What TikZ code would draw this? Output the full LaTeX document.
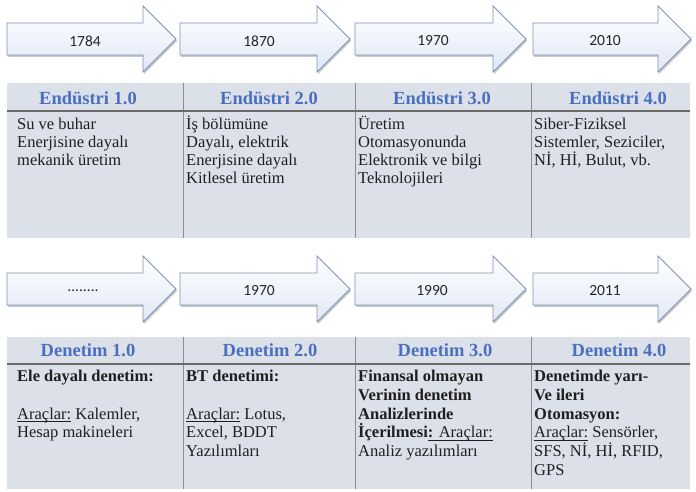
\documentclass[tikz,border=0pt]{standalone}
\usepackage{fontspec}
\setmainfont{Liberation Serif}
\newfontfamily\yearfont{Carlito}
\usetikzlibrary{shadows}

\definecolor{tablebg}{HTML}{DCE1E9}
\definecolor{headblue}{HTML}{4A6EC0}
\definecolor{arrowedge}{HTML}{7E91B2}
\definecolor{arrowtint}{HTML}{E0E8F6}
\definecolor{rulegray}{HTML}{6A6A6A}

\tikzset{
  yeararrow/.style={draw=arrowedge, line width=0.8pt, top color=white,
    bottom color=arrowtint, line join=miter,
    drop shadow={shadow xshift=1.2pt, shadow yshift=-1.8pt, opacity=0.35, fill=black!60}},
  yearlabel/.style={font=\yearfont\fontsize{15.5}{18}\selectfont, text=black!85, inner sep=0pt},
  tablebody/.style={fill=tablebg, draw=none},
  headrule/.style={draw=rulegray, line width=2pt},
  colrule/.style={draw=black!45, line width=0.7pt},
  colhead/.style={font=\bfseries\fontsize{18.5}{20}\selectfont, text=headblue, anchor=base, inner sep=0pt},
  celltext/.style={anchor=base west, inner sep=0pt, text=black!88}
}

% block arrow: name, left x, head base x, tip x, centre y, label x, label
\newcommand\timearrow[7]{%
  \draw[yeararrow] (#2,#5-16) -- (#3,#5-16) -- (#3,#5-33) -- (#4,#5)
    -- (#3,#5+33) -- (#3,#5+16) -- (#2,#5+16) -- cycle;
  \node[yearlabel] (#1) at (#6,#5+2) {#7};
}
% cell contents with a given line pitch
\newcommand\cellbox[2]{\parbox[t]{170pt}{\raggedright\fontsize{16.5}{#1}\selectfont #2}}
% underline sitting just under the baseline
\newcommand\ulword[1]{\leavevmode{\setbox0\hbox{#1}\rlap{\rule[-2.2pt]{\wd0}{0.6pt}}\box0}}

\begin{document}
\begin{tikzpicture}[x=1pt, y=-1pt]
  \useasboundingbox[fill=white] (0,0) rectangle (696,492);

  % ---- upper timeline ----
  \timearrow{y1784}{7}{143}{176}{39}{85}{1784}
  \timearrow{y1870}{180}{317}{350}{39}{259}{1870}
  \timearrow{y1970a}{355}{493}{526}{39}{433}{1970}
  \timearrow{y2010}{533}{658}{691}{39}{605}{2010}

  % ---- upper table ----
  \fill[tablebody] (7,83) rectangle (690,238);
  \draw[colrule] (183,83) -- (183,238);
  \draw[colrule] (355,83) -- (355,238);
  \draw[colrule] (531,83) -- (531,238);
  \draw[headrule] (7,111) -- (690,111);

  \node[colhead] (e1h) at (88,105) {Endüstri 1.0};
  \node[colhead] (e2h) at (269,105) {Endüstri 2.0};
  \node[colhead] (e3h) at (442,105) {Endüstri 3.0};
  \node[colhead] (e4h) at (618,105) {Endüstri 4.0};

  \node[celltext] (e1) at (17,129.5) {\cellbox{18}{Su ve buhar\\Enerjisine dayalı\\mekanik üretim}};
  \node[celltext] (e2) at (186,129.5) {\cellbox{18}{İş bölümüne\\Dayalı, elektrik\\Enerjisine dayalı\\Kitlesel üretim}};
  \node[celltext] (e3) at (358,129.5) {\cellbox{18}{Üretim\\Otomasyonunda\\Elektronik ve bilgi\\Teknolojileri}};
  \node[celltext] (e4) at (534,129.5) {\cellbox{18}{Siber-Fiziksel\\Sistemler, Seziciler,\\Nİ, Hİ, Bulut, vb.}};

  % ---- lower timeline ----
  \timearrow{ydots}{7}{143}{176}{289}{83}{........}
  \timearrow{y1970b}{180}{317}{350}{289}{259}{1970}
  \timearrow{y1990}{355}{493}{526}{289}{432}{1990}
  \timearrow{y2011}{533}{658}{691}{289}{605}{2011}

  % ---- lower table ----
  \fill[tablebody] (7,337) rectangle (690,489);
  \draw[colrule] (183,337) -- (183,489);
  \draw[colrule] (355,337) -- (355,489);
  \draw[colrule] (531,337) -- (531,489);
  \draw[headrule] (7,364) -- (690,364);

  \node[colhead] (d1h) at (88,356.5) {Denetim 1.0};
  \node[colhead] (d2h) at (270,356.5) {Denetim 2.0};
  \node[colhead] (d3h) at (445,356.5) {Denetim 3.0};
  \node[colhead] (d4h) at (619,356.5) {Denetim 4.0};

  \node[celltext] (d1) at (17,381.5) {\cellbox{18.8}{\textbf{Ele dayalı denetim:}\\\mbox{}\\\ulword{Araçlar:} Kalemler,\\Hesap makineleri}};
  \node[celltext] (d2) at (186,381.5) {\cellbox{18.8}{\textbf{BT denetimi:}\\\mbox{}\\\ulword{Araçlar:} Lotus,\\Excel, BDDT\\Yazılımları}};
  \node[celltext] (d3) at (358,381.5) {\cellbox{18.8}{\textbf{Finansal olmayan}\\\textbf{Verinin denetim}\\\textbf{Analizlerinde}\\\textbf{İçerilmesi}\ulword{\textbf{:} Araçlar:}\\Analiz yazılımları}};
  \node[celltext] (d4) at (534,381.5) {\cellbox{18.8}{\textbf{Denetimde yarı-}\\\textbf{Ve ileri}\\\textbf{Otomasyon:}\\\ulword{Araçlar:} Sensörler,\\SFS, Nİ, Hİ, RFID,\\GPS}};
\end{tikzpicture}
\end{document}
